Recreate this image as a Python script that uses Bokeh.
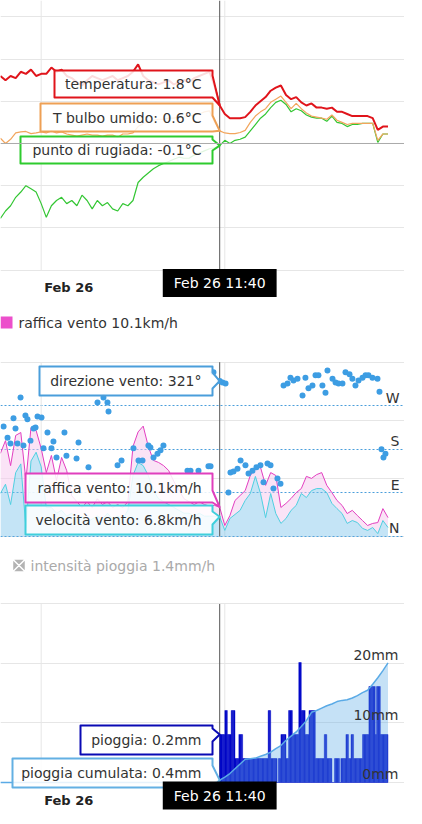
import numpy as np
from bokeh.plotting import figure
from bokeh.models import Range1d, FixedTicker, Span, Label, Grid
from bokeh.layouts import column
from bokeh.embed import file_html
from bokeh.resources import INLINE
from bokeh.core.properties import value

FONT = "DejaVu Sans"

# ---------------------------------------------------------------- data
# 20-minute samples, minutes relative to Feb 26 00:00 (Feb 25 21:20 ... Feb 26 22:40)
sample_minutes = np.arange(-160, 1361, 20)
sample_hours = sample_minutes / 60.0

temp_c = [3.2, 3.0, 3.2, 3.1, 3.4, 3.3, 3.5, 3.2,
          3.3, 3.3, 3.6, 3.4, 3.5, 3.2, 3.1, 2.9,
          2.75, 3.0, 3.2, 3.1, 3.0, 3.1, 3.2, 3.0,
          3.1, 3.2, 3.4, 3.75, 3.2, 3.0, 2.9, 2.8,
          2.9, 3.0, 2.8, 2.9, 3.0, 2.9, 3.1, 3.2,
          3.3, 3.4, 2.7,
          1.8,
          1.4, 1.2, 1.2, 1.2, 1.25, 1.5, 1.8, 2.0,
          2.2, 2.5, 2.65, 2.75, 2.3, 2.1, 2.2, 1.95,
          1.8, 1.9, 1.7, 1.7, 1.65, 1.7, 1.5, 1.5,
          1.4, 1.3, 1.3, 1.3, 1.3, 1.2, 0.65, 0.8, 0.8]

wetbulb_c = [0.25, 0.0, 0.2, 0.5, 0.55, 0.57, 0.47, 0.5,
             0.55, 0.5, 0.6, 0.5, 0.55, 0.45, 0.4, 0.35,
             0.4, 0.45, 0.4, 0.4, 0.35, 0.4, 0.4, 0.3,
             0.45, 0.45, 0.5, 0.8, 0.95, 1.05, 1.1, 1.15,
             1.15, 1.2, 1.2, 1.25, 1.25, 1.3, 1.35, 1.4,
             1.5, 1.55, 1.0,
             0.6,
             0.5, 0.47, 0.47, 0.52, 0.62, 1.0, 1.3, 1.5,
             1.65, 1.95, 2.1, 2.25, 1.95, 1.65, 1.9, 1.65,
             1.45, 1.3, 1.25, 1.2, 1.15, 1.35, 1.1, 1.0,
             0.9, 0.95, 0.95, 0.95, 0.95, 0.95, 0.15, 0.45, 0.45]

dewpoint_c = [-3.55, -3.2, -2.95, -2.55, -2.3, -2.0, -2.15, -2.3,
              -2.85, -3.5, -2.95, -2.7, -2.55, -2.85, -2.7, -2.95,
              -2.45, -2.7, -3.1, -2.7, -2.95, -2.8, -3.1, -3.2,
              -2.85, -2.95, -2.7, -1.85, -1.6, -1.4, -1.2, -1.05,
              -0.95, -0.85, -0.75, -0.65, -0.7, -0.7, -0.55, -0.45,
              -0.35, -0.25, -0.2,
              -0.1,
              0.15, 0.0, 0.15, 0.2, 0.3, 0.6, 0.9, 1.2,
              1.4, 1.7, 1.95, 2.05, 1.85, 1.5, 1.65, 1.55,
              1.35, 1.25, 1.2, 1.2, 1.05, 1.3, 1.0, 0.95,
              0.8, 0.9, 0.9, 0.95, 0.95, 0.95, 0.05, 0.45, 0.45]

gust_kmh = [28.6, 33.0, 24.4, 34.8, 35.8, 19.3, 37.5, 36.5,
            30.3, 22.0, 27.9, 19.3, 27.2, 22.7, 14.0, 12.0,
            10.0, 12.0, 10.0, 13.0, 11.0, 12.0, 10.0, 11.0,
            10.0, 12.0, 31.0, 36.0, 38.0, 31.0, 26.2, 25.5,
            24.4, 22.7, 19.0, 16.0, 13.0, 12.0, 11.0, 12.0,
            11.0, 10.5, 10.7,
            10.1,
            3.8, 7.2, 12.4, 14.1, 15.8, 21.0, 23.8, 23.8,
            17.6, 22.0, 21.0, 10.0, 11.4, 13.1, 15.1, 16.5,
            20.7, 20.0, 21.3, 22.0, 17.6, 15.1, 12.4, 10.7,
            7.9, 9.0, 7.2, 5.5, 3.8, 4.5, 4.8, 9.6, 6.5]

speed_kmh = [14.8, 18.0, 11.0, 22.0, 25.0, 3.0, 26.0, 29.0,
             24.0, 10.0, 10.0, 8.0, 9.0, 7.0, 8.0, 6.0,
             7.0, 5.0, 6.0, 7.0, 6.0, 8.0, 6.0, 7.0,
             6.0, 9.0, 21.0, 25.5, 24.4, 21.0, 15.8, 13.0,
             12.0, 11.0, 10.0, 9.0, 8.0, 8.0, 7.0, 8.0,
             7.0, 7.0, 7.0,
             6.8,
             2.1, 6.2, 7.6, 9.0, 12.4, 14.8, 20.7, 14.8,
             6.5, 14.8, 7.9, 4.5, 6.2, 9.0, 10.7, 14.8,
             13.4, 15.8, 16.5, 16.5, 15.1, 11.4, 9.6, 7.9,
             4.5, 5.5, 4.8, 2.8, 2.1, 3.1, 1.0, 5.5, 3.1]

rain_cum_mm = [0.0, 0.0, 0.0, 0.0, 0.0, 0.0, 0.0, 0.0,
               0.0, 0.0, 0.0, 0.0, 0.0, 0.0, 0.0, 0.0,
               0.0, 0.0, 0.0, 0.0, 0.0, 0.0, 0.0, 0.0,
               0.0, 0.0, 0.0, 0.0, 0.0, 0.0, 0.0, 0.0,
               0.0, 0.0, 0.0, 0.0, 0.0, 0.0, 0.0, 0.0,
               0.0, 0.0, 0.0,
               0.4,
               0.9, 1.5, 2.3, 3.1, 3.9, 4.0, 4.1, 4.4,
               4.7, 5.1, 5.7, 6.2, 7.1, 7.8, 8.5, 9.4,
               10.4, 11.8, 12.1, 12.5, 12.9, 13.2, 13.6, 13.8,
               13.9, 14.2, 14.6, 15.1, 15.5, 16.5, 17.6, 18.8, 20.1]

# wind direction readings (hours from Feb 26 00:00, degrees)
dir_hours = [-2.46, -2.20, -2.01, -1.81, -1.68, -1.55, -1.35, -1.16, -1.03, -0.90,
             -0.70, -0.50, -0.37, -0.24, 0.02, 0.15, 0.41, 0.67, 0.80, 1.00,
             1.52, 1.65, 2.31, 2.44, 3.09, 3.68, 4.07, 4.33, 4.40, 4.99,
             5.25, 6.03, 6.36, 6.62, 7.01, 7.14, 7.34, 7.60, 7.80, 7.99,
             9.56, 9.76, 10.28, 10.93, 11.07, 11.26, 11.67, 11.85, 12.05, 12.24,
             12.37, 12.57, 12.83, 13.03, 13.35, 13.55, 13.81, 14.07, 14.33, 14.53,
             14.79, 14.99, 15.18, 15.44, 15.64, 15.84, 16.10, 16.29, 16.49, 16.75,
             17.08, 17.27, 17.47, 17.73, 17.93, 18.12, 18.38, 18.58, 18.71, 19.04,
             19.24, 19.43, 19.69, 19.89, 20.15, 20.34, 20.54, 20.74, 21.00, 21.20,
             21.39, 21.65, 21.98, 22.11, 22.24, 22.37, 22.50]
dir_deg = [227, 204, 192, 244, 223, 192, 287, 188, 250, 242,
           198, 223, 225, 248, 246, 182, 215, 182, 196, 163,
           215, 167, 161, 194, 143, 277, 287, 277, 258, 147,
           157, 182, 157, 157, 188, 184, 163, 171, 178, 188,
           136, 136, 136, 145, 145, 339, 321, 318, 316, 91,
           132, 134, 140, 157, 147, 130, 136, 143, 147, 112,
           151, 147, 99, 120, 109, 312, 316, 328, 322, 326,
           291, 328, 306, 312, 333, 333, 312, 297, 343, 326,
           318, 316, 316, 339, 335, 326, 312, 322, 328, 333,
           333, 328, 326, 299, 180, 163, 171]

# rain per 5 minutes from 11:40
rain_start_minutes = 700
rain_mm = [0.2, 0.2, 0.2, 0.2, 0.3, 0.3, 0.2, 0.2, 0.2, 0.3, 0.3, 0.3,
           0.1, 0.1, 0.1, 0.2, 0.2, 0.2, 0.1, 0.1, 0.1, 0.1, 0.1, 0.1,
           0.1, 0.1, 0.1, 0.1, 0.1, 0.1, 0.1, 0.1, 0.1, 0.1, 0.1, 0.1,
           0.1, 0.1, 0.3, 0.3, 0.1, 0.1, 0.1, 0.1, 0.1, 0.0, 0.1, 0.1,
           0.2, 0.2, 0.2, 0.2, 0.1, 0.1, 0.3, 0.3, 0.3, 0.2, 0.2, 0.2,
           0.2, 0.2, 0.5, 0.5, 0.3, 0.3, 0.3, 0.2, 0.2, 0.2, 0.3, 0.3,
           0.3, 0.3, 0.3, 0.1, 0.1, 0.1, 0.1, 0.1, 0.1, 0.1, 0.2, 0.2,
           0.1, 0.1, 0.1, 0.1, 0.0, 0.0, 0.1, 0.1, 0.1, 0.1, 0.0, 0.1,
           0.1, 0.1, 0.1, 0.2, 0.2, 0.1, 0.1, 0.2, 0.2, 0.1, 0.1, 0.1,
           0.1, 0.1, 0.1, 0.1, 0.2, 0.2, 0.2, 0.2, 0.2, 0.4, 0.4, 0.4,
           0.4, 0.4, 0.2, 0.4, 0.4, 0.4, 0.2, 0.2, 0.2, 0.2, 0.2, 0.2]
rain_hours = (rain_start_minutes + 5 * np.arange(len(rain_mm)) + 2.5) / 60.0

cursor_hours = 11 + 40 / 60
cursor_index = 43
cursor_label = "Feb 26 11:40"
day_ticks = [0]
day_labels = ["Feb 26"]
grid_hours = [0, 12]
temp_grid = [-6, -4, -2, 0, 2, 4, 6]
speed_grid = [0, 20, 40, 60]
dir_ticks = [0, 90, 180, 270]
dir_names = ["N", "E", "S", "W"]
cum_grid = [0, 10, 20, 30]
cum_ticks = [0, 10, 20]
cum_names = ["0mm", "10mm", "20mm"]
legend_gust = "raffica vento 10.1km/h"
legend_rate = "intensità pioggia 1.4mm/h"

# ---------------------------------------------------------------- geometry
FRAME_W = 404
PAGE_LEFT = 0
X_START, X_END = -2.660, 23.745

T_START, T_END = -7.441, 6.777        # fig1: frame 300 px, page top 0
W_START, W_END = -3.098, 81.24        # fig2 speed: frame 245 px, page top 300
D_START, D_END = -18.59, 487.4        # fig2 direction
C_START, C_END = -6.891, 39.83        # fig3 cumulative: frame 278 px, page top 545
R_START, R_END = -0.1708, 0.9875      # fig3 rain per interval

GRID_C = "#e6e6e6"
TXT_C = "#333333"


def to_x(px):
    return X_START + (px - PAGE_LEFT) * (X_END - X_START) / FRAME_W


def make_fig(frame_h, y0, y1, page_top):
    p = figure(frame_width=FRAME_W, frame_height=frame_h,
               x_range=Range1d(X_START, X_END), y_range=Range1d(y0, y1),
               output_backend="svg", toolbar_location=None,
               min_border_left=0, min_border_right=0, min_border_top=0,
               min_border_bottom=0, y_axis_location=None, x_axis_location=None,
               outline_line_color=None)

    def to_y(py):
        return y1 - (py - page_top) * (y1 - y0) / frame_h

    def page_y(v, r0=y0, r1=y1):
        return page_top + (r1 - v) / (r1 - r0) * frame_h

    p.xgrid.visible = False
    p.ygrid.grid_line_color = GRID_C
    return p, to_y, page_y


def callout(p, to_y, box, notch, tip_py, text, color):
    L, T, R, B = box
    n1, n2 = notch
    tip_px = PAGE_LEFT + (cursor_hours - X_START) / (X_END - X_START) * FRAME_W
    xs = [to_x(L), to_x(R), to_x(R), to_x(tip_px), to_x(R), to_x(R), to_x(L)]
    ys = [to_y(T), to_y(T), to_y(n1), to_y(tip_py), to_y(n2), to_y(B), to_y(B)]
    p.patch(xs, ys, fill_color="white", fill_alpha=0.85, line_color=color,
            line_width=2, line_join="round")
    p.text(x=[to_x(R - 11)], y=[to_y((T + B) / 2)], text=[text],
           text_font=value(FONT), text_font_size="14px", text_color=TXT_C,
           text_align="right", text_baseline="middle")


def time_axis(p, to_y, label_py, flag_py):
    # day label of the time axis
    p.text(x=day_ticks, y=[to_y(label_py)] * len(day_ticks), text=day_labels,
           x_offset=3, text_align="left", text_baseline="middle",
           text_font=value(FONT), text_font_size="13px", text_font_style="bold",
           text_color="#222222")
    # crosshair time flag
    p.add_layout(Label(x=cursor_hours, y=to_y(flag_py), text=cursor_label,
                       text_font=FONT, text_font_size="14px", text_color="white",
                       text_align="center", text_baseline="middle",
                       background_fill_color="black",
                       padding=dict(left=11, right=11, top=6, bottom=6)))


# ---------------------------------------------------------------- fig 1: temperatures
p1, y1f, py1 = make_fig(300, T_START, T_END, 0)
p1.ygrid.ticker = FixedTicker(ticks=temp_grid)
p1.segment(x0=grid_hours, y0=temp_grid[0], x1=grid_hours, y1=T_END,
           line_color=GRID_C, line_width=1)
p1.add_layout(Span(location=0, dimension="width", line_color="#aaaaaa", line_width=1))
p1.segment(x0=[cursor_hours], y0=temp_grid[0], x1=[cursor_hours], y1=T_END,
           line_color="#555555", line_width=1)

p1.line(sample_hours, dewpoint_c, line_color="#33c633", line_width=1.2)
p1.line(sample_hours, wetbulb_c, line_color="#f2a55c", line_width=1.2)
p1.line(sample_hours, temp_c, line_color="#e0141b", line_width=2)

i = cursor_index
callout(p1, y1f, (54, 70, 212, 97), (75, 97), py1(temp_c[i]),
        f"temperatura: {temp_c[i]:.1f}°C", "#e0141b")
callout(p1, y1f, (40, 103, 212, 131), (115, 131), py1(wetbulb_c[i]),
        f"T bulbo umido: {wetbulb_c[i]:.1f}°C", "#eea055")
callout(p1, y1f, (20, 136, 212, 163), (139, 150), py1(dewpoint_c[i]),
        f"punto di rugiada: {dewpoint_c[i]:.1f}°C", "#2ecb2e")
time_axis(p1, y1f, 287, 282.5)

# ---------------------------------------------------------------- fig 2: wind
p2, y2f, py2 = make_fig(245, W_START, W_END, 300)
p2.extra_y_ranges = {"dir": Range1d(D_START, D_END)}
p2.ygrid.ticker = FixedTicker(ticks=speed_grid)
p2.add_layout(Grid(dimension=1, y_range_name="dir", ticker=FixedTicker(ticks=dir_ticks),
                   grid_line_color="#4a9edb", grid_line_dash="2 2", grid_line_width=1))
p2.segment(x0=grid_hours, y0=speed_grid[0], x1=grid_hours, y1=speed_grid[-1],
           line_color=GRID_C, line_width=1)

p2.varea(x=sample_hours, y1=speed_kmh, y2=gust_kmh, fill_color="#f6c8ee", fill_alpha=0.5)
p2.varea(x=sample_hours, y1=0, y2=speed_kmh, fill_color="#7cc4ec", fill_alpha=0.45)
p2.line(sample_hours, gust_kmh, line_color="#e23fc0", line_width=1)
p2.line(sample_hours, speed_kmh, line_color="#4fcfe0", line_width=1)
p2.segment(x0=[cursor_hours], y0=speed_grid[0], x1=[cursor_hours], y1=speed_grid[-1],
           line_color="#555555", line_width=1)
p2.scatter(dir_hours, dir_deg, y_range_name="dir", size=6, fill_color="#3d9de3",
           line_color=None)
p2.text(x=[X_END] * len(dir_ticks), y=dir_ticks, text=dir_names, y_range_name="dir",
        x_offset=-5, text_align="right", text_baseline="bottom",
        text_font=value(FONT), text_font_size="14px", text_color=TXT_C)

dir_at_cursor = dir_deg[dir_hours.index(11.67)]
callout(p2, y2f, (39, 366, 212, 395), (372, 388), py2(dir_at_cursor, D_START, D_END),
        f"direzione vento: {dir_at_cursor}°", "#4a9edb")
callout(p2, y2f, (25, 473, 212, 502), (490, 502), py2(gust_kmh[i]),
        f"raffica vento: {gust_kmh[i]:.1f}km/h", "#e03fbd")
callout(p2, y2f, (25, 505, 212, 534), (511, 524), py2(speed_kmh[i]),
        f"velocità vento: {speed_kmh[i]:.1f}km/h", "#3fcfdc")

p2.scatter([to_x(6)], [y2f(322)], marker="square", size=12, fill_color="#ec4fcb",
           line_color=None)
p2.text(x=[to_x(18)], y=[y2f(322)], text=[legend_gust], text_font=value(FONT),
        text_font_size="14px", text_color=TXT_C, text_align="left", text_baseline="middle")

# ---------------------------------------------------------------- fig 3: rain
p3, y3f, py3 = make_fig(278, C_START, C_END, 545)
p3.extra_y_ranges = {"rain": Range1d(R_START, R_END)}
p3.ygrid.ticker = FixedTicker(ticks=cum_grid)
p3.segment(x0=grid_hours, y0=cum_grid[0], x1=grid_hours, y1=cum_grid[-1],
           line_color=GRID_C, line_width=1)
p3.segment(x0=[cursor_hours], y0=cum_grid[0], x1=[cursor_hours], y1=cum_grid[-1],
           line_color="#555555", line_width=1)

p3.vbar(x=rain_hours, width=5 / 60, top=rain_mm, bottom=0, y_range_name="rain",
        fill_color="#0008c8", line_color="#0008c8", line_width=0.4)
p3.varea(x=sample_hours, y1=0, y2=rain_cum_mm, fill_color="#5aaae6", fill_alpha=0.35)
p3.line(sample_hours, rain_cum_mm, line_color="#5aaae6", line_width=1.5)
p3.text(x=[X_END] * len(cum_ticks), y=cum_ticks, text=cum_names, x_offset=-6,
        text_align="right", text_baseline="bottom",
        text_font=value(FONT), text_font_size="14px", text_color=TXT_C)

callout(p3, y3f, (80, 725, 212, 754), (728, 741), py3(rain_mm[0], R_START, R_END),
        f"pioggia: {rain_mm[0]:.1f}mm", "#0a0ab4")
callout(p3, y3f, (12, 758, 212, 787), (765, 787), py3(rain_cum_mm[i]),
        f"pioggia cumulata: {rain_cum_mm[i]:.1f}mm", "#63b0e3")
time_axis(p3, y3f, 800, 795)

p3.scatter([to_x(18.5)], [y3f(565)], marker="square_x", size=13, fill_color="#b3b3b3",
           line_color="white", line_width=1.5)
p3.text(x=[to_x(30)], y=[y3f(565)], text=[legend_rate], text_font=value(FONT),
        text_font_size="14px", text_color="#aaaaaa", text_align="left",
        text_baseline="middle")

layout = column(p1, p2, p3, spacing=0)
open("out.html", "w").write(file_html(layout, INLINE))
